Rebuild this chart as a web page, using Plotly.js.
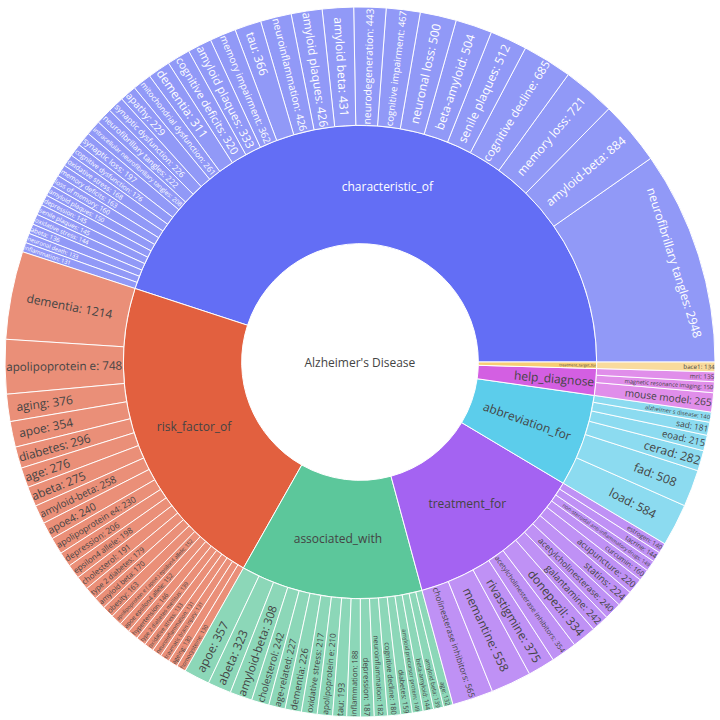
<!DOCTYPE html>
<html>
<head>
<meta charset="utf-8">
<script src="https://cdn.plot.ly/plotly-3.0.1.min.js"></script>
<style>
  html, body { margin: 0; padding: 0; background: #fff; }
  #chart { width: 720px; height: 720px; }
</style>
</head>
<body>
<div id="chart"></div>
<script>
// root and relation nodes
var rootName = "Alzheimer's Disease";
var relations = ['characteristic_of', 'risk_factor_of', 'associated_with', 'treatment_for',
                 'abbreviation_for', 'help_diagnose', 'treatment_target_for'];
var relationColors = ['#636EF5', '#E2603F', '#5CC79B', '#A463F2', '#5CCDEB', '#D35FE2', '#F7CD74'];

// characteristic_of
var charNames = ['neurofibrillary tangles', 'amyloid-beta', 'memory loss', 'cognitive decline', 'senile plaques',
  'beta-amyloid', 'neuronal loss', 'cognitive impairment', 'neurodegeneration', 'amyloid beta',
  'amyloid plaques', 'neuroinflammation', 'tau', 'memory impairment', 'amyloid plaques ',
  'cognitive deficits', 'dementia', 'mitochondrial dysfunction', 'apathy', 'synaptic dysfunction',
  'neurofibrillary tangles ', 'intracellular neurofibrillary tangles', 'synaptic loss', 'cognitive dysfunction',
  'oxidative stress', 'memory deficits', 'loss of memory', 'amyloid plaques  ', 'depression',
  'senile plaques ', 'oxidative stress ', 'abeta', 'neuronal death', 'inflammation'];
var charValues = [2948, 884, 721, 685, 512, 504, 500, 467, 443, 431, 426, 426, 366, 362, 333,
  320, 311, 261, 229, 226, 222, 208, 197, 176, 168, 163, 160, 150, 145, 145, 144, 136, 133, 131];

// risk_factor_of
var riskNames = ['dementia', 'apolipoprotein e', 'aging', 'apoe', 'diabetes', 'age', 'abeta', 'amyloid-beta',
  'apoe4', 'apolipoprotein e4', 'depression', 'epsilon4 allele', 'cholesterol', 'type 2 diabetes',
  'amyloid beta', 'obesity', 'apolipoprotein e ( apoe ) epsilon4 allele', 'apoe epsilon4 allele',
  'hypertension', 'type 2 diabetes mellitus', 'oxidative stress', 'neuroinflammation',
  'traumatic brain injury', 'ageing', 'homocysteine'];
var riskValues = [1214, 748, 376, 354, 296, 276, 275, 258, 240, 230, 206, 198, 191, 179,
  170, 163, 152, 152, 146, 139, 133, 131, 131, 130, 130];

// associated_with
var assocNames = ['apoe', 'abeta', 'amyloid-beta', 'cholesterol', 'age-related', 'dementia',
  'oxidative stress', 'apolipoprotein e', 'tau', 'inflammation', 'depression', 'neuroinflammation',
  'cognitive decline', 'diabetes', 'amyloid precursor protein', 'beta-amyloid', 'amyloid beta', 'age'];
var assocValues = [357, 323, 308, 242, 227, 226, 217, 210, 193, 188, 187, 182, 180, 159, 149, 144, 139, 132];

// treatment_for
var treatNames = ['cholinesterase inhibitors', 'memantine', 'rivastigmine', 'acetylcholinesterase inhibitors',
  'donepezil', 'galantamine', 'acetylcholinesterase', 'statins', 'acupuncture', 'curcumin',
  'non-steroidal anti-inflammatory drugs', 'tacrine', 'estrogen'];
var treatValues = [565, 558, 375, 354, 334, 242, 240, 224, 220, 160, 149, 144, 140];

// abbreviation_for
var abbrNames = ['load', 'fad', 'cerad', 'eoad', 'sad', 'alzheimer s disease'];
var abbrValues = [584, 508, 282, 215, 181, 140];

// help_diagnose
var diagNames = ['mouse model', 'magnetic resonance imaging', 'mri'];
var diagValues = [265, 150, 135];

// treatment_target_for
var targetNames = ['bace1'];
var targetValues = [134];

var leafNames = [charNames, riskNames, assocNames, treatNames, abbrNames, diagNames, targetNames];
var leafValues = [charValues, riskValues, assocValues, treatValues, abbrValues, diagValues, targetValues];

var ids = [rootName], labels = [rootName], parents = [''], values = [0], colors = [''];
relations.forEach(function (rel, i) {
  ids.push(rel);
  labels.push(rel);
  parents.push(rootName);
  values.push(0);
  colors.push(relationColors[i]);
  leafNames[i].forEach(function (name, j) {
    ids.push(rel + '/' + name);
    labels.push(name.trim() + ': ' + leafValues[i][j]);
    parents.push(rel);
    values.push(leafValues[i][j]);
    colors.push(relationColors[i]);
  });
});

var data = [{
  type: 'sunburst',
  ids: ids,
  labels: labels,
  parents: parents,
  values: values,
  branchvalues: 'remainder',
  marker: { colors: colors, line: { color: '#ffffff', width: 1 } },
  textfont: { family: 'Open Sans', size: 12 },
  insidetextorientation: 'auto'
}];

var layout = {
  width: 720,
  height: 720,
  margin: { l: 3, r: 3, t: 7, b: 3 },
  paper_bgcolor: '#ffffff',
  font: { family: 'Open Sans' }
};

Plotly.newPlot('chart', data, layout, { displayModeBar: false });
</script>
</body>
</html>
